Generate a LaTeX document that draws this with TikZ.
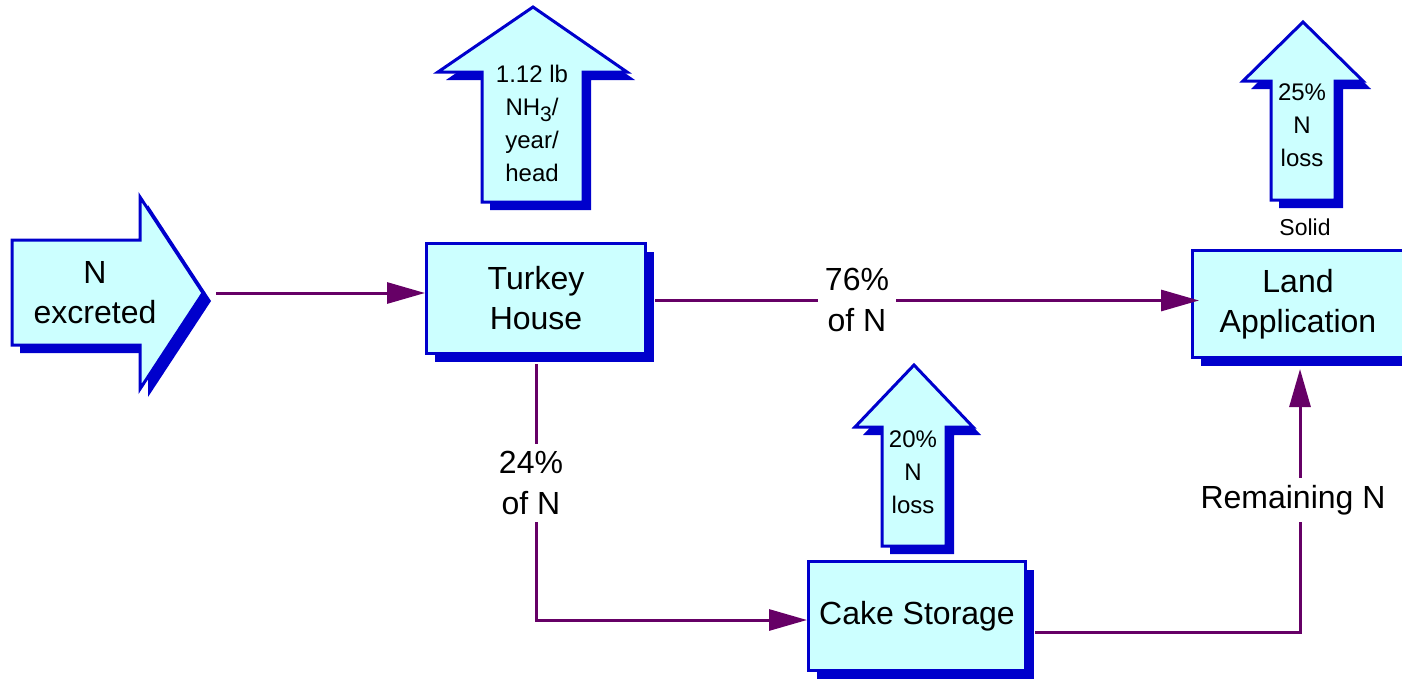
\documentclass[tikz,border=0pt]{standalone}
\usepackage{fontspec}
\setmainfont{Liberation Sans}
\usetikzlibrary{arrows.meta,shadows}
\definecolor{cyanfill}{RGB}{204,255,255}
\definecolor{edgeblue}{RGB}{0,0,204}
\definecolor{flowpurple}{RGB}{102,0,102}
\newcommand\bigtxt{\fontsize{16}{20}\selectfont}
\newcommand\midtxt{\fontsize{16}{20.5}\selectfont}
\newcommand\smalltxt{\fontsize{12}{16.5}\selectfont}
\newcommand\tinytxt{\fontsize{11.5}{12}\selectfont}
\newcommand\lowthree{\raisebox{-3pt}{\fontsize{10.5}{10.5}\selectfont 3}}

\begin{document}
\begin{tikzpicture}[x=0.5pt,y=-0.5pt,
  shadowed/.style={drop shadow={shadow xshift=4pt,shadow yshift=-4pt,fill=edgeblue,opacity=1}},
  face/.style={fill=cyanfill,draw=edgeblue,line width=1.5pt,line join=miter},
  box/.style={rectangle,face,shadowed,align=center,font=\bigtxt,inner sep=0pt},
  flow/.style={draw=flowpurple,line width=1.5pt,-{Triangle[length=19pt,width=10.5pt]}},
  flowlabel/.style={fill=white,align=center,inner sep=3.5pt,font=\midtxt},
  arrowtext/.style={align=center,font=\smalltxt,inner sep=0pt}]

\useasboundingbox (0,0) rectangle (1402,680);
\clip (0,0) rectangle (1402,680);

% incoming nitrogen arrow
\path[face,shadowed] (12,240) -- (140,240) -- (140,197) -- (203,293)
  -- (140,389) -- (140,345) -- (12,345) -- cycle;
\node[font=\bigtxt,align=center,inner sep=0pt] (nexc) at (95,293) {N\\excreted};
\coordinate (nout) at (216,293);

% emission arrows
\path[face,shadowed] (482,202) -- (482,72) -- (438,72) -- (533,7)
  -- (627,72) -- (583,72) -- (583,202) -- cycle;
\node[arrowtext] (nh3) at (532,123) {1.12 lb\\NH\lowthree/\\year/\\head};

\path[face,shadowed] (1271,200) -- (1271,81) -- (1243,81) -- (1303,22)
  -- (1363,81) -- (1335,81) -- (1335,200) -- cycle;
\node[arrowtext] (loss25) at (1302,125) {25\%\\N\\loss};
\node[font=\tinytxt,inner sep=0pt] (solid) at (1305,227) {Solid};

\path[face,shadowed] (882,546) -- (882,427) -- (855,427) -- (914,365)
  -- (973,427) -- (946,427) -- (946,546) -- cycle;
\node[arrowtext] (loss20) at (913,472) {20\%\\N\\loss};

% process boxes
\node[box,minimum width=109.5pt,minimum height=55pt] (TH) at (536,298.5) {Turkey\\House};
\node[box,minimum width=105.5pt,minimum height=53.5pt] (LA) at (1298,304) {Land\\Application};
\node[box,minimum width=108.5pt,minimum height=54.5pt] (CS) at (917,616) {Cake Storage};

% nitrogen flows
\draw[flow] (nout) -- (nout -| TH.west);
\draw[flow] ([xshift=4pt,yshift=-1pt]TH.east) -- ([xshift=4pt,yshift=-1pt]TH.east -| LA.west);
\node[flowlabel] (l76) at (857,300) {76\%\\of N};
\draw[flow] ([yshift=-4.5pt]TH.south) |- ([yshift=-2pt]CS.west);
\node[flowlabel] (l24) at (531,483) {24\%\\of N};
\draw[flow] ([xshift=4pt,yshift=-8pt]CS.east) -| ([xshift=1pt,yshift=-5pt]LA.south);
\node[flowlabel] (lrem) at (1293,500) {Remaining N};
\end{tikzpicture}
\end{document}
